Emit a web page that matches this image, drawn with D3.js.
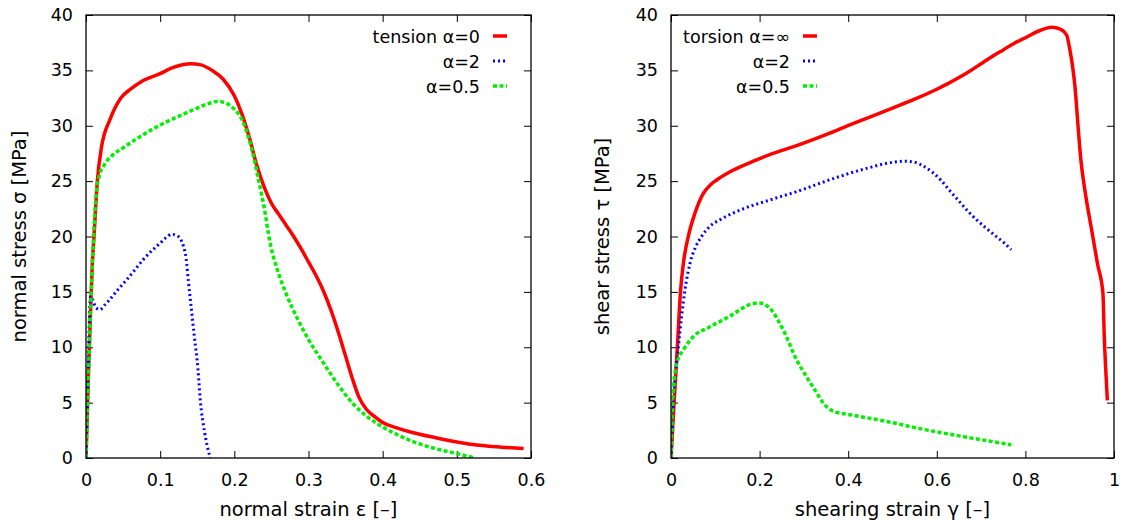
<!DOCTYPE html>
<html>
<head>
<meta charset="utf-8">
<script src="https://cdn.jsdelivr.net/npm/d3@7"></script>
<style>
  body { margin: 0; background: #fff; }
  svg { display: block; font-family: "DejaVu Sans", sans-serif; }
</style>
</head>
<body>
<svg id="chart" width="1128" height="523"></svg>
<script>
// ---- data ----
const stressTicks = [0, 5, 10, 15, 20, 25, 30, 35, 40];
const normalStrainTicks = [0, 0.1, 0.2, 0.3, 0.4, 0.5, 0.6];
const shearStrainTicks = [0, 0.2, 0.4, 0.6, 0.8, 1];

// left panel: normal strain / normal stress
const tensionA0 = [[0,0],[0.003,7],[0.006,13],[0.0085,17.5],[0.0108,20],[0.0153,25],[0.021,28.1],[0.032,30.5],
  [0.047,32.5],[0.06,33.3],[0.075,34],[0.1,34.7],[0.115,35.2],[0.13,35.5],[0.141,35.6],[0.155,35.5],[0.17,35],
  [0.185,34.2],[0.2,32.7],[0.21,31.1],[0.22,29],[0.23,26.5],[0.24,24.5],[0.25,23],[0.26,22],[0.27,21],
  [0.28,20],[0.29,18.9],[0.3,17.7],[0.31,16.5],[0.32,15.1],[0.33,13.4],[0.34,11.4],[0.35,9.2],[0.36,7],
  [0.368,5.5],[0.378,4.4],[0.39,3.7],[0.4,3.2],[0.42,2.7],[0.44,2.3],[0.47,1.85],[0.5,1.45],[0.53,1.15],
  [0.56,0.98],[0.59,0.85]];
const tensionA2 = [[0,0],[0.002,5],[0.004,11],[0.006,14.6],[0.009,14.3],[0.013,13.6],[0.019,13.4],[0.025,13.8],
  [0.032,14.3],[0.043,15.2],[0.055,16.1],[0.066,17],[0.077,17.9],[0.09,18.8],[0.1,19.4],[0.108,19.9],[0.1155,20.2],
  [0.122,20.1],[0.127,19.8],[0.131,19.2],[0.135,18],[0.138,16],[0.142,13.5],[0.146,11],[0.151,8],[0.154,5.3],
  [0.16,2.3],[0.1675,0]];
const tensionA05 = [[0,0],[0.003,7],[0.006,13],[0.0085,17.5],[0.011,21],[0.014,24],[0.018,25.5],[0.024,26.4],
  [0.035,27.3],[0.05,28],[0.07,28.9],[0.09,29.7],[0.11,30.4],[0.13,31],[0.15,31.6],[0.165,32],[0.177,32.2],
  [0.19,32],[0.2,31.5],[0.21,30.6],[0.218,29.2],[0.226,27.2],[0.233,25],[0.24,22.7],[0.248,19.5],[0.258,17],
  [0.27,14.8],[0.285,12.6],[0.3,10.7],[0.32,8.6],[0.34,6.6],[0.36,4.9],[0.38,3.7],[0.4,2.8],[0.42,2.1],
  [0.44,1.5],[0.46,1.05],[0.48,0.7],[0.5,0.4],[0.515,0.15],[0.525,0]];

// right panel: shearing strain / shear stress
const torsionAinf = [[0,0],[0.0035,2.5],[0.0068,4.9],[0.0143,10],[0.0218,15.2],[0.028,17.6],[0.039,20],
  [0.054,22.1],[0.073,23.9],[0.09,24.7],[0.103,25.1],[0.141,26],[0.186,26.8],[0.23,27.5],[0.29,28.3],
  [0.35,29.2],[0.405,30.1],[0.45,30.8],[0.5,31.6],[0.55,32.4],[0.6,33.3],[0.625,33.8],[0.65,34.35],[0.675,34.95],
  [0.7,35.6],[0.725,36.25],[0.75,36.85],[0.775,37.45],[0.8,37.95],[0.833,38.6],[0.859,38.9],[0.88,38.7],
  [0.893,38.2],[0.9007,36.8],[0.906,35.5],[0.912,33.5],[0.919,29.9],[0.925,27],[0.935,24],[0.95,20.5],
  [0.963,17.5],[0.975,14.9],[0.978,11],[0.982,7.5],[0.985,5.2]];
const torsionA2 = [[0,0],[0.0053,4.9],[0.0166,10],[0.0316,15.2],[0.043,17.6],[0.055,19],[0.069,20],[0.09,21],
  [0.11,21.5],[0.163,22.5],[0.2235,23.3],[0.287,24.1],[0.364,25.2],[0.446,26.2],[0.5,26.7],[0.527,26.8],
  [0.55,26.7],[0.568,26.4],[0.59,25.8],[0.609,25.1],[0.63,24.1],[0.65,23.2],[0.67,22.3],[0.69,21.5],
  [0.71,20.8],[0.731,20.1],[0.75,19.5],[0.768,18.8]];
const torsionA05 = [[0,0],[0.0038,4.9],[0.0128,8.55],[0.0278,9.75],[0.05,10.95],[0.088,11.85],[0.137,12.9],
  [0.1745,13.8],[0.197,14],[0.21,13.9],[0.2235,13.5],[0.2535,11.55],[0.2837,8.85],[0.305,7.4],[0.324,6.2],
  [0.345,4.9],[0.36,4.35],[0.372,4.15],[0.405,3.9],[0.487,3.3],[0.568,2.6],[0.65,2],[0.768,1.2]];

const leftLabels = ["tension \u03b1=0", "\u03b1=2", "\u03b1=0.5"];
const rightLabels = ["torsion \u03b1=\u221e", "\u03b1=2", "\u03b1=0.5"];

// ---- styles ----
const styles = [
  {color: "#ff0000", width: 3.5, dash: null},
  {color: "#0000ff", width: 3, dash: "2,3"},
  {color: "#00f000", width: 3.5, dash: "4,2.5"}
];
const fontFamily = "'DejaVu Sans', sans-serif";

const svg = d3.select("#chart");
const plotTop = 15, plotBottom = 458;

function drawPanel(opt) {
  const x = d3.scaleLinear().domain(opt.xDomain).range([opt.left, opt.right]);
  const y = d3.scaleLinear().domain([0, 40]).range([plotBottom, plotTop]);
  const g = svg.append("g");

  // ticks (inward, mirrored on all sides)
  const bx = g.append("g").attr("transform", `translate(0,${plotBottom})`)
    .call(d3.axisBottom(x).tickValues(opt.xTicks).tickSize(-7).tickSizeOuter(0).tickPadding(16)
      .tickFormat(d3.format("~g")));
  const tx = g.append("g").attr("transform", `translate(0,${plotTop})`)
    .call(d3.axisTop(x).tickValues(opt.xTicks).tickSize(-7).tickSizeOuter(0).tickFormat(""));
  const ly = g.append("g").attr("transform", `translate(${opt.left},0)`)
    .call(d3.axisLeft(y).tickValues(stressTicks).tickSize(-7).tickSizeOuter(0).tickPadding(13));
  const ry = g.append("g").attr("transform", `translate(${opt.right},0)`)
    .call(d3.axisRight(y).tickValues(stressTicks).tickSize(-7).tickSizeOuter(0).tickFormat(""));
  [bx, tx, ly, ry].forEach(a => {
    a.select(".domain").remove();
    a.selectAll(".tick line").attr("stroke", "#000").attr("stroke-width", 1);
    a.selectAll("text").attr("font-size", 17.5).attr("fill", "#000").attr("font-family", fontFamily);
  });

  // curves
  const line = d3.line().x(d => x(d[0])).y(d => y(d[1])).curve(d3.curveMonotoneX);
  const clipId = "clip" + opt.left;
  g.append("clipPath").attr("id", clipId).append("rect")
    .attr("x", opt.left).attr("y", plotTop).attr("width", opt.right - opt.left).attr("height", plotBottom - plotTop);
  opt.series.forEach((s, i) => {
    const st = styles[i];
    g.append("path").datum(s)
      .attr("clip-path", `url(#${clipId})`)
      .attr("fill", "none")
      .attr("stroke", st.color)
      .attr("stroke-width", st.width)
      .attr("stroke-dasharray", st.dash)
      .attr("stroke-linejoin", "round")
      .attr("d", line);
  });

  // frame
  g.append("rect").attr("x", opt.left).attr("y", plotTop)
    .attr("width", opt.right - opt.left).attr("height", plotBottom - plotTop)
    .attr("fill", "none").attr("stroke", "#000").attr("stroke-width", 1.3);

  // legend
  opt.labels.forEach((lab, i) => {
    const cy = 36 + i * 25;
    g.append("text").attr("x", opt.legendX).attr("y", cy + 6.5)
      .attr("text-anchor", "end").attr("font-size", 17.5).text(lab);
    const st = styles[i];
    g.append("line").attr("x1", opt.legendX + 13).attr("x2", opt.legendX + 27)
      .attr("y1", cy).attr("y2", cy)
      .attr("stroke", st.color).attr("stroke-width", st.width)
      .attr("stroke-dasharray", st.dash);
  });

  // axis titles
  g.append("text").attr("x", (opt.left + opt.right) / 2).attr("y", 516)
    .attr("text-anchor", "middle").attr("font-size", 19.5).text(opt.xTitle);
  g.append("text").attr("transform", `translate(${opt.yTitleX},${(plotTop + plotBottom) / 2}) rotate(-90)`)
    .attr("text-anchor", "middle").attr("font-size", 19.5).text(opt.yTitle);
}

drawPanel({
  left: 86, right: 531, xDomain: [0, 0.6], xTicks: normalStrainTicks,
  series: [tensionA0, tensionA2, tensionA05], labels: leftLabels, legendX: 480,
  xTitle: "normal strain \u03b5 [\u2013]", yTitle: "normal stress \u03c3 [MPa]", yTitleX: 26
});
drawPanel({
  left: 671, right: 1114, xDomain: [0, 1], xTicks: shearStrainTicks,
  series: [torsionAinf, torsionA2, torsionA05], labels: rightLabels, legendX: 790,
  xTitle: "shearing strain \u03b3 [\u2013]", yTitle: "shear stress \u03c4 [MPa]", yTitleX: 609
});
</script>
</body>
</html>
